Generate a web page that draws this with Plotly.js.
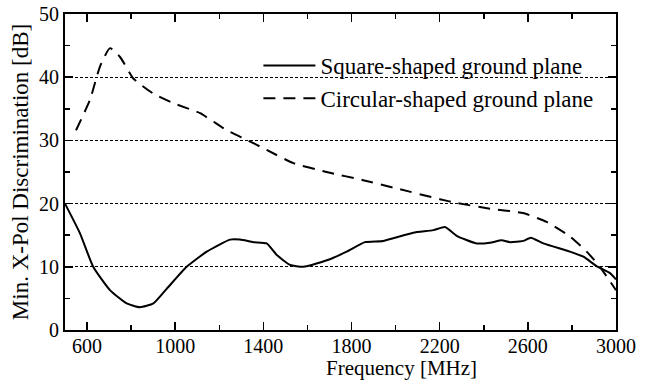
<!DOCTYPE html>
<html><head><meta charset="utf-8">
<script src="https://cdn.plot.ly/plotly-3.0.1.min.js"></script>
<style>html,body{margin:0;padding:0;background:#fff}#chart{width:657px;height:383px}</style>
</head><body><div id="chart"></div>
<script>
const squareFreq = [500,568,628,704,780,840,901,961,1052,1143,1249,1294,1355,1415,1460,1521,1581,1702,1778,1861,1944,2080,2171,2224,2277,2367,2428,2481,2519,2579,2614,2670,2791,2852,2912,2973,3000];
const squareDB   = [20.0,15.3,10.0,6.3,4.2,3.6,4.2,6.5,10.0,12.4,14.3,14.3,13.9,13.7,11.9,10.3,10.0,11.2,12.4,13.9,14.1,15.4,15.8,16.3,14.9,13.7,13.8,14.2,13.9,14.1,14.6,13.7,12.4,11.6,10.1,9.0,8.0];
const circFreq = [550,613,659,704,750,810,901,991,1113,1234,1324,1415,1536,1687,1853,2005,2201,2277,2428,2579,2685,2791,2867,2927,3000];
const circDB   = [31.6,36.4,41.7,44.6,43.2,39.8,37.4,35.9,34.3,31.6,30.1,28.5,26.4,25.0,23.7,22.4,20.7,20.1,19.2,18.5,17.1,14.8,12.4,10.0,6.3];
const seriesNames = ["Square-shaped ground plane","Circular-shaped ground plane"];
const xTicks = [600,1000,1400,1800,2200,2600,3000];
const yTicks = [0,10,20,30,40,50];

const fam = "Liberation Serif, Times New Roman, serif";
const tickFont = {family:fam, color:"#000", size:20};
const traces = [
  {x:squareFreq, y:squareDB, name:seriesNames[0], mode:"lines", line:{color:"#000", width:2, shape:"spline", smoothing:0.5}},
  {x:circFreq, y:circDB, name:seriesNames[1], mode:"lines", line:{color:"#000", width:2, dash:"12px,8px", shape:"spline", smoothing:0.5}}
];
const axisCommon = {showline:true, linewidth:2, linecolor:"#000", mirror:"allticks", ticks:"inside", ticklen:8, tickwidth:1.5, tickcolor:"#000", zeroline:false, tickfont:tickFont};
const layout = {
  width:657, height:383, margin:{l:65, r:41, t:14, b:53},
  paper_bgcolor:"#fff", plot_bgcolor:"#fff", font:tickFont, showlegend:true,
  legend:{x:0.351, y:0.905, xanchor:"left", yanchor:"top", bgcolor:"rgba(0,0,0,0)", itemwidth:52, font:{family:fam, size:23, color:"#000"}, tracegroupgap:0},
  xaxis:Object.assign({}, axisCommon, {range:[500,3000], tickvals:xTicks, ticktext:xTicks.map(String), showgrid:false, ticklabelstandoff:-3,
    minor:{dtick:200, tick0:600, ticks:"inside", ticklen:5, tickwidth:1.5, tickcolor:"#000", showgrid:false}}),
  yaxis:Object.assign({}, axisCommon, {range:[0,50], tickvals:yTicks, ticktext:yTicks.map(String), showgrid:true, gridcolor:"#000", gridwidth:1, griddash:"3px,2px",
    minor:{dtick:5, ticks:"inside", ticklen:5, tickwidth:1.5, tickcolor:"#000", showgrid:false},
    title:{text:"Min. X-Pol Discrimination [dB]", font:{family:fam, color:"#000", size:23}, standoff:4}}),
  annotations:[{text:"Frequency [MHz]", xref:"paper", yref:"paper", x:0.61, y:0, yshift:-38, xanchor:"center", yanchor:"middle", showarrow:false, borderpad:0, font:{family:fam, color:"#000", size:21}}]
};
Plotly.newPlot("chart", traces, layout, {staticPlot:true, displayModeBar:false});
</script></body></html>
